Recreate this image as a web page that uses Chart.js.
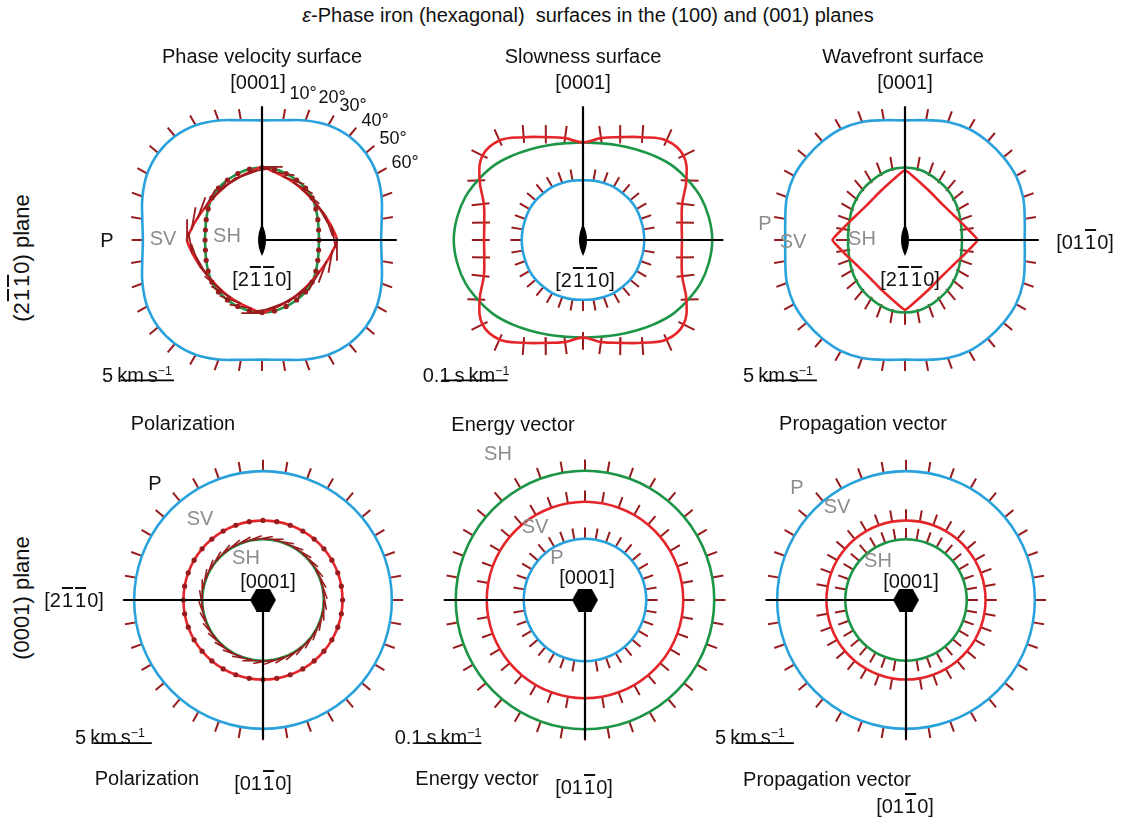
<!DOCTYPE html>
<html>
<head>
<meta charset="utf-8">
<title>ε-Phase iron surfaces</title>
<script src="https://cdn.jsdelivr.net/npm/chart.js@4.4.1/dist/chart.umd.min.js"></script>
<style>
body { margin: 0; background: #fff; }
#fig { position: relative; width: 1127px; height: 823px; overflow: hidden; font-family: "Liberation Sans", Arial, sans-serif; color: #111; }
#fig canvas { position: absolute; }
.t { position: absolute; transform: translate(-50%, -50%); white-space: nowrap; font-size: 20px; line-height: 1; }
.g { color: #8c8c8c; }
.deg { font-size: 18px; }
.row { font-size: 22px; transform: translate(-50%, -50%) rotate(-90deg); }
.o { text-decoration: overline; margin: 0 1px; }
sup { font-size: 0.62em; vertical-align: 0.6em; line-height: 0; }
</style>
</head>
<body>
<div id="fig"></div>
<script>
// angle from [0001] in degrees, one quadrant; the other three are mirrored
const angles = [0, 10, 20, 30, 40, 50, 60, 70, 80, 90]

// (2-1-10) plane, phase velocity, km/s
const phaseP  = [11.24, 11.42, 11.95, 12.45, 12.72, 12.72, 12.45, 11.95, 11.42, 11.19]
const phaseSV = [6.86, 6.50, 6.28, 6.15, 6.06, 6.06, 6.15, 6.37, 6.68, 7.04]
const phaseSH = [6.81, 6.77, 6.64, 6.50, 6.37, 6.15, 5.84, 5.58, 5.40, 5.35]

// (2-1-10) plane, slowness, s/km
const slowP  = [0.0905, 0.0914, 0.0921, 0.0929, 0.0929, 0.0936, 0.0936, 0.0929, 0.0929, 0.0929]
const slowSV = [0.148, 0.157, 0.166, 0.180, 0.197, 0.199, 0.181, 0.160, 0.152, 0.150]
const slowSH = [0.148, 0.149, 0.153, 0.159, 0.167, 0.176, 0.183, 0.190, 0.194, 0.196]

// (2-1-10) plane, wavefront (group velocity), km/s
const waveP  = [11.24, 11.42, 11.80, 12.04, 12.08, 12.08, 12.04, 11.80, 11.42, 11.24]
const waveSV = [6.55, 5.84, 5.35, 5.04, 4.87, 4.87, 5.04, 5.40, 5.97, 6.81]
const waveSH = [6.81, 6.77, 6.59, 6.37, 6.19, 5.97, 5.75, 5.53, 5.40, 5.35]

// (0001) plane is isotropic: P, SV, SH
const basalVel  = [11.03, 6.81, 5.20]
const basalSlow = [0.0929, 0.149, 0.196]

const blue = '#29a2dc', red = '#e4262a', green = '#1c9546', tick = '#981b1e'
const fig = document.getElementById('fig')

function fullCurve(radii) {
    // one point every 10 deg, with one extra point each end so the loop closes smoothly
    let pts = []
    for (let a = -10; a <= 370; a += 10) {
        let q = ((a % 180) + 180) % 180
        let r = radii[angles.indexOf(q <= 90 ? q : 180 - q)]
        let t = a * Math.PI / 180
        pts.push({x: r * Math.sin(t), y: r * Math.cos(t), a: a})
    }
    return pts
}

function ring(r) {
    return fullCurve(angles.map(() => r))
}

function inner(pts) {
    return pts.filter(p => p.a >= 0 && p.a < 360)
}

function radialTicks(pts, from, to) {
    let out = []
    inner(pts).forEach(p => {
        let r = Math.hypot(p.x, p.y), ux = p.x / r, uy = p.y / r
        out.push({x: p.x + ux * from, y: p.y + uy * from}, {x: p.x + ux * to, y: p.y + uy * to}, {x: null, y: null})
    })
    return out
}

function normalTicks(pts, from, to) {
    let out = []
    for (let i = 1; i < pts.length - 1; i++) {
        let p = pts[i]
        if (p.a < 0 || p.a >= 360) continue
        let tx = pts[i + 1].x - pts[i - 1].x, ty = pts[i + 1].y - pts[i - 1].y
        let l = Math.hypot(tx, ty), nx = -ty / l, ny = tx / l
        out.push({x: p.x + nx * from, y: p.y + ny * from}, {x: p.x + nx * to, y: p.y + ny * to}, {x: null, y: null})
    }
    return out
}

// polarization in the plane, across the ray: from..to along the clockwise tangent
function tangentTicks(pts, from, to) {
    let out = []
    inner(pts).forEach(p => {
        let r = Math.hypot(p.x, p.y), ux = p.x / r, uy = p.y / r
        out.push({x: p.x + uy * from, y: p.y - ux * from}, {x: p.x + uy * to, y: p.y - ux * to}, {x: null, y: null})
    })
    return out
}

function line(pts, color, tension) {
    return {data: pts, borderColor: color, borderWidth: 2.6, pointRadius: 0, showLine: true,
        tension: tension === undefined ? 0.4 : tension, fill: false}
}

function segs(pts, color, w) {
    return {data: pts, borderColor: color, borderWidth: w || 2, pointRadius: 0, showLine: true, tension: 0, spanGaps: false}
}

function dots(pts) {
    return {data: inner(pts), showLine: false, pointRadius: 2.6, pointBackgroundColor: tick, pointBorderWidth: 0}
}

function mark(img) {
    return {data: [{x: 0, y: 0}], showLine: false, pointStyle: img, pointRadius: 10}
}

function lensMark() {
    let c = document.createElement('canvas')
    c.width = 14; c.height = 32
    let g = c.getContext('2d')
    g.beginPath(); g.moveTo(7, 0); g.quadraticCurveTo(15, 16, 7, 32); g.quadraticCurveTo(-1, 16, 7, 0); g.fill()
    return c
}

function hexMark() {
    let c = document.createElement('canvas')
    c.width = 26; c.height = 23
    let g = c.getContext('2d')
    g.beginPath(); g.moveTo(0, 11.5); g.lineTo(6.5, 0); g.lineTo(19.5, 0); g.lineTo(26, 11.5)
    g.lineTo(19.5, 23); g.lineTo(6.5, 23); g.closePath(); g.fill()
    return c
}

const lens = lensMark(), hex = hexMark()

function panel(cx, cy, ppu, build) {
    const px = v => v / ppu
    let c = document.createElement('canvas')
    c.width = 380; c.height = 380
    c.style.left = (cx - 190) + 'px'
    c.style.top = (cy - 190) + 'px'
    fig.appendChild(c)
    let R = px(190)
    new Chart(c, {
        type: 'scatter',
        data: {datasets: build(px)},
        options: {
            responsive: false,
            animation: false,
            events: [],
            layout: {padding: 0},
            plugins: {legend: {display: false}, tooltip: {enabled: false}},
            scales: {
                x: {display: false, min: -R, max: R},
                y: {display: false, min: -R, max: R}
            }
        }
    })
}

function scaleBar(x, y, len) {
    return segs([{x: x, y: y}, {x: x + len, y: y}], '#000', 1.8)
}

// top row: vertical [0001] up, horizontal to the right
function upAxes(v, h) {
    return segs([{x: 0, y: v}, {x: 0, y: 0}, {x: h, y: 0}], '#000', 2.2)
}
// bottom row: horizontal to the left, vertical down
function downAxes(h, v) {
    return segs([{x: -h, y: 0}, {x: 0, y: 0}, {x: 0, y: -v}], '#000', 2.2)
}

// Phase velocity surface
panel(262, 240, 11.3, px => {
    let P = fullCurve(phaseP), SV = fullCurve(phaseSV), SH = fullCurve(phaseSH)
    return [
        mark(lens),
        upAxes(px(142), px(143)),
        segs(tangentTicks(SV, px(-2), px(22)), tick, 1.8),
        dots(SH),
        line(SV, red, 0.25),
        line(SH, green),
        line(P, blue),
        segs(radialTicks(P, 0, px(12)), tick),
        scaleBar(px(-150), px(-149), 5)
    ]
})

// Slowness surface
panel(583, 240, 700, px => {
    let P = fullCurve(slowP), SV = fullCurve(slowSV), SH = fullCurve(slowSH)
    return [
        mark(lens),
        upAxes(px(142), px(149)),
        line(SV, red),
        line(SH, green),
        line(P, blue),
        segs(normalTicks(SV, px(-6), px(13)), tick),
        segs(radialTicks(P, 0, px(12)), tick),
        scaleBar(px(-150), px(-149), 0.1)
    ]
})

// Wavefront surface
panel(905, 240, 11.3, px => {
    let P = fullCurve(waveP), SV = fullCurve(waveSV), SH = fullCurve(waveSH)
    return [
        mark(lens),
        upAxes(px(142), px(142)),
        line(SV, red, 0.15),
        line(SH, green),
        line(P, blue),
        segs(radialTicks(SH, px(-2), px(13)), tick),
        segs(radialTicks(P, 0, px(12)), tick),
        scaleBar(px(-150), px(-149), 5)
    ]
})

// Polarization, (0001) plane
panel(263, 600, 12.4, px => {
    let P = ring(basalVel[0]), SV = ring(basalVel[1]), SH = ring(basalVel[2])
    return [
        mark(hex),
        downAxes(px(148), px(148)),
        segs(tangentTicks(SH, 0, px(22)), tick, 1.6),
        dots(SV),
        line(SV, red),
        line(SH, green),
        line(P, blue),
        segs(radialTicks(P, 0, px(12)), tick),
        scaleBar(px(-180), px(-152), 5)
    ]
})

// Energy vector, (0001) plane
panel(585, 600, 700, px => {
    let P = ring(basalSlow[0]), SV = ring(basalSlow[1]), SH = ring(basalSlow[2])
    return [
        mark(hex),
        downAxes(px(150), px(148)),
        line(SV, red),
        line(SH, green),
        line(P, blue),
        segs(radialTicks(P, 0, px(12)), tick),
        segs(radialTicks(SV, 0, px(12)), tick),
        segs(radialTicks(SH, 0, px(12)), tick),
        scaleBar(px(-180), px(-152), 0.1)
    ]
})

// Propagation vector, (0001) plane
panel(906, 600, 12.4, px => {
    let P = ring(basalVel[0]), SV = ring(basalVel[1]), SH = ring(basalVel[2])
    return [
        mark(hex),
        downAxes(px(149), px(148)),
        line(SV, red),
        line(SH, green),
        line(P, blue),
        segs(radialTicks(P, 0, px(12)), tick),
        segs(radialTicks(SV, 0, px(12)), tick),
        segs(radialTicks(SH, 0, px(12)), tick),
        scaleBar(px(-181), px(-152), 5)
    ]
})

// text
const bar1 = '<span class="o">1</span>'
const dirA = '[2' + bar1 + bar1 + '0]'
const dirB = '[01' + bar1 + '0]'
const kms = '5&thinsp;km&thinsp;s<sup>−1</sup>'
const skm = '0.1&thinsp;s&thinsp;km<sup>−1</sup>'

const labels = [
    ['<i>ε</i>-Phase iron (hexagonal)&nbsp; surfaces in the (100) and (001) planes', 588, 15],
    ['(2' + bar1 + bar1 + '0) plane', 22, 258, 'row'],
    ['(0001) plane', 22, 598, 'row'],

    ['Phase velocity surface', 262, 56],
    ['[0001]', 258, 82],
    ['10°', 303, 93, 'deg'], ['20°', 332, 97, 'deg'], ['30°', 353, 105, 'deg'],
    ['40°', 375, 120, 'deg'], ['50°', 393, 138, 'deg'], ['60°', 405, 162, 'deg'],
    ['P', 107, 240],
    ['SV', 163, 238, 'g'],
    ['SH', 227, 235, 'g'],
    [dirA, 262, 279],
    [kms, 137, 375],

    ['Slowness surface', 583, 56],
    ['[0001]', 583, 82],
    [dirA, 585, 280],
    [skm, 466, 375],

    ['Wavefront surface', 903, 56],
    ['[0001]', 905, 82],
    [dirB, 1085, 242],
    ['P', 765, 223, 'g'],
    ['SV', 793, 241, 'g'],
    ['SH', 862, 238, 'g'],
    [dirA, 910, 279],
    [kms, 778, 375],

    ['Polarization', 183, 423],
    ['P', 155, 483],
    ['SV', 200, 518, 'g'],
    ['SH', 246, 557, 'g'],
    ['[0001]', 268, 581],
    [dirA, 74, 600],
    [kms, 110, 737],
    ['Polarization', 147, 778],
    [dirB, 263, 783],

    ['Energy vector', 513, 424],
    ['SH', 498, 453, 'g'],
    ['SV', 535, 526, 'g'],
    ['P', 557, 557, 'g'],
    ['[0001]', 587, 577],
    [skm, 438, 737],
    ['Energy vector', 477, 778],
    [dirB, 584, 787],

    ['Propagation vector', 863, 423],
    ['P', 797, 487, 'g'],
    ['SV', 837, 506, 'g'],
    ['SH', 878, 560, 'g'],
    ['[0001]', 911, 581],
    [kms, 750, 737],
    ['Propagation vector', 827, 779],
    [dirB, 905, 806]
]

labels.forEach(l => {
    let d = document.createElement('div')
    d.className = 't' + (l[3] ? ' ' + l[3] : '')
    d.style.left = l[1] + 'px'
    d.style.top = l[2] + 'px'
    d.innerHTML = l[0]
    fig.appendChild(d)
})
</script>
</body>
</html>
